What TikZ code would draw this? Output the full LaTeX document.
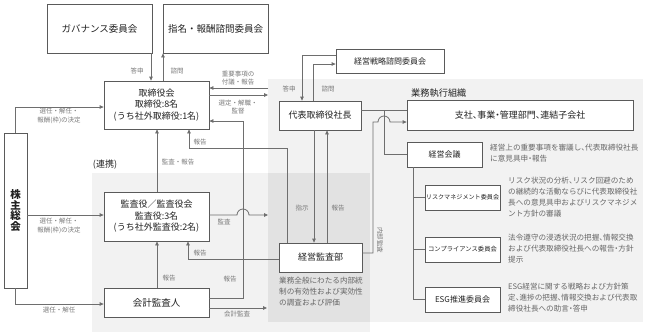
\documentclass[tikz,border=0pt]{standalone}
\usepackage{fontspec}
\setmainfont{Noto Sans CJK JP}
\newfontfamily\hfont[RawFeature=+halt]{Noto Sans CJK JP}
\usetikzlibrary{arrows.meta}
\definecolor{boxline}{HTML}{5A5A5A}
\definecolor{txt}{HTML}{222222}
\definecolor{lblc}{HTML}{7A7A7A}
\definecolor{descc}{HTML}{666666}
\definecolor{connc}{HTML}{6E6E6E}
\definecolor{bgl}{HTML}{F2F2F2}
\definecolor{bgd}{HTML}{E2E2E2}
\tikzset{
 box/.style={draw=boxline, line width=0.8pt, fill=white, text=txt, align=center, inner sep=0pt, font=\fontsize{9}{11.5}\selectfont},
 lbl/.style={text=lblc, align=center, inner sep=0pt, font=\fontsize{6.5}{8.3}\selectfont},
 desc/.style={text=descc, align=left, inner sep=0pt, anchor=west, font=\hfont\fontsize{7.6}{11}\selectfont},
 conn/.style={draw=connc, line width=0.8pt},
 arr/.style={conn, -{Triangle[length=4pt,width=3.6pt]}},
}
\begin{document}
\begin{tikzpicture}[x=1pt,y=-1pt]
\useasboundingbox (0,0) rectangle (648,335);
% backgrounds
\fill[bgl] (92,173) rectangle (370,332);
\fill[bgl] (268,79) rectangle (643,322);
\fill[bgd] (268,173) rectangle (370,322);
% boxes
\node[box, minimum width=105pt, minimum height=49pt, font=\fontsize{9.5}{11.5}\selectfont] (gov) at (99.5,28.5) {ガバナンス委員会};
\node[box, minimum width=105pt, minimum height=49pt, font=\fontsize{9.5}{11.5}\selectfont] (nom) at (215.5,28.5) {指名・報酬諮問委員会};
\node[box, minimum width=105pt, minimum height=48pt] (board) at (156.5,105) {取締役会\\取締役:8名\\(うち社外取締役:1名)};
\node[box, minimum width=23pt, minimum height=155pt, font=\fontsize{10.5}{10.7}\selectfont\bfseries] (agm) at (15.5,210.5) {株\\主\\総\\会};
\node[box, minimum width=105pt, minimum height=49pt] (aud) at (156.5,216.5) {監査役／監査役会\\監査役:3名\\(うち社外監査役:2名)};
\node[box, minimum width=105pt, minimum height=29pt, font=\fontsize{9.5}{11}\selectfont] (acc) at (156.5,302.5) {会計監査人};
\node[box, minimum width=82pt, minimum height=29pt] (pres) at (320,115.5) {代表取締役社長};
\node[box, minimum width=108pt, minimum height=24pt, font=\fontsize{8}{10}\selectfont] (strat) at (390,61) {経営戦略諮問委員会};
\node[box, minimum width=226pt, minimum height=30pt, font=\hfont\fontsize{9}{11}\selectfont] (branch) at (520,115) {支社、事業・管理部門、連結子会社};
\node[box, minimum width=75pt, minimum height=25pt, font=\fontsize{8}{10}\selectfont] (mtg) at (444.5,154.5) {経営会議};
\node[box, minimum width=75pt, minimum height=25pt, font=\fontsize{6.1}{8}\selectfont] (risk) at (462.5,197.5) {リスクマネジメント委員会};
\node[box, minimum width=75pt, minimum height=25pt, font=\fontsize{6.3}{8}\selectfont] (comp) at (462.5,249.5) {コンプライアンス委員会};
\node[box, minimum width=75pt, minimum height=25pt, font=\fontsize{8}{10}\selectfont] (esg) at (462.5,299.5) {ESG推進委員会};
\node[box, minimum width=83pt, minimum height=29pt] (iad) at (320.5,257.5) {経営監査部};
% titles
\node[text=txt, inner sep=0pt, font=\fontsize{9}{11}\selectfont] (renkei) at (105,165) {(連携)};
\node[text=txt, inner sep=0pt, anchor=west, font=\fontsize{9.2}{11}\selectfont] (gyomu) at (411,93) {業務執行組織};
% descriptions
\node[desc] (mtgd) at (490,153) {経営上の重要事項を審議し、代表取締役社長\\に意見具申・報告};
\node[desc] (riskd) at (508,197.5) {リスク状況の分析、リスク回避のため\\の継続的な活動ならびに代表取締役社\\長への意見具申およびリスクマネジメ\\ント方針の審議};
\node[desc] (compd) at (508,249) {法令遵守の浸透状況の把握、情報交換\\および代表取締役社長への報告・方針\\提示};
\node[desc] (esgd) at (508,297.5) {ESG経営に関する戦略および方針策\\定、進捗の把握、情報交換および代表取\\締役社長への助言・答申};
\node[desc] (iadd) at (279,292) {業務全般にわたる内部統\\制の有効性および実効性\\の調査および評価};
% free ends
\coordinate (execA) at (268,88);
\coordinate (execB) at (268,95);
\coordinate (iadzoneA) at (268,215);
\coordinate (iadzoneB) at (267,308);
% connectors
\draw[arr] (151,0 |- gov.south) -- (151,0 |- board.north);
\draw[arr] (163,0 |- board.north) -- (163,0 |- nom.south);
\draw[arr] (agm.north) |- ([yshift=-2pt]board.west);
\draw[arr] (agm.east |- iadzoneA) -- (aud.west |- iadzoneA);
\draw[arr] (agm.south) |- ([yshift=-1.5pt]acc.west);
\draw[arr] (execA) -- (board.east |- execA);
\draw[arr] (board.east |- execB) -- (execB);
\draw[arr] (acc.east |- 0,298) -| (243,121) -- (board.east |- 0,121);
\draw[arr] (287,0 |- iad.north) |- (189,148) -- (189,0 |- board.south);
\draw[arr] (157,0 |- aud.north) -- (157,0 |- board.south);
\draw[arr] (157,0 |- acc.north) -- (157,0 |- aud.south);
\draw[arr] (iad.west |- 0,259) -| (188,0 |- aud.south);
\draw[arr] (aud.east |- iadzoneA) -- (237,215) arc[start angle=180, end angle=0, radius=6pt] -- (iadzoneA);
\draw[arr] (acc.east |- iadzoneB) -- (iadzoneB);
\draw[arr] (314,0 |- pres.south) -- (314,0 |- iad.north);
\draw[arr] (327,0 |- iad.north) -- (327,0 |- pres.south);
\draw[arr] (strat.west |- 0,55) -| (302,0 |- pres.north);
\draw[arr] (313,0 |- pres.north) |- (strat.west |- 0,64);
\draw[conn] (pres.east |- 0,110) -- (branch.west |- 0,110);
\draw[conn] (384,110) |- (mtg.west);
\draw[arr] (iad.east |- 0,253) -| (373,122) -- (378,122) arc[start angle=180, end angle=0, radius=6pt] -- (branch.west |- 0,122);
\draw[conn] (413,0 |- mtg.south) |- (risk.west);
\draw[conn] (413,0 |- mtg.south) |- (comp.west);
\draw[conn] (413,0 |- mtg.south) |- (esg.west);
% connector labels
\node[lbl] (l1) at (137,71) {答申};
\node[lbl] (l2) at (177,71) {諮問};
\node[lbl] (l3) at (238,78) {重要事項の\\付議・報告};
\node[lbl] (l4) at (238,107) {選定・解職・\\監督};
\node[lbl] (l5) at (59,116) {選任・解任・\\報酬(枠)の決定};
\node[lbl] (l6) at (59,226) {選任・解任・\\報酬(枠)の決定};
\node[lbl] (l7) at (59,310) {選任・解任};
\node[lbl] (l8) at (230,279) {報告};
\node[lbl] (l9) at (169,278) {報告};
\node[lbl] (l10) at (200,142) {報告};
\node[lbl] (l11) at (178,162) {監査・報告};
\node[lbl] (l12) at (200,253) {報告};
\node[lbl] (l13) at (224,222) {監査};
\node[lbl] (l14) at (237,314) {会計監査};
\node[lbl] (l15) at (302,208) {指示};
\node[lbl] (l16) at (338,208) {報告};
\node[lbl] (l17) at (289,89) {答申};
\node[lbl] (l18) at (328,89) {諮問};
\node[lbl, rotate=-90] (l19) at (380,240) {内部監査};
\end{tikzpicture}
\end{document}
